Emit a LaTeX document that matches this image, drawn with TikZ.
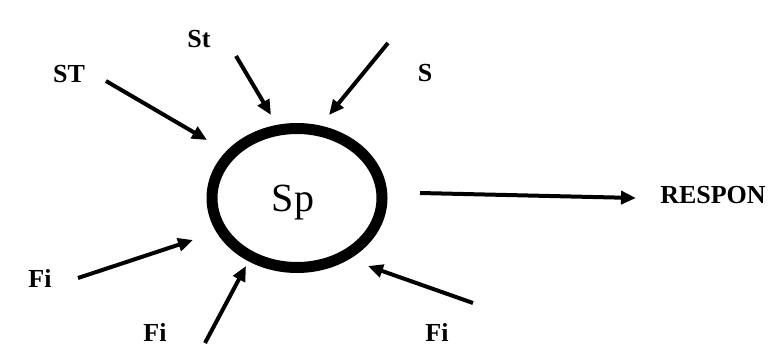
\documentclass[tikz,border=0pt]{standalone}
\usepackage{fontspec}
\setmainfont{Liberation Serif}
\usetikzlibrary{arrows.meta,shapes.geometric}
\begin{document}
\begin{tikzpicture}[x=1pt,y=-1pt,
  lbl/.style={font=\fontsize{26}{28}\selectfont\bfseries, inner sep=0pt},
  arr/.style={line width=4pt, -{Triangle[length=15pt,width=13pt]}},
  ring/.style={draw, ellipse, line width=11pt, minimum width=170pt, minimum height=139pt, inner sep=0pt}]
\useasboundingbox (0,0) rectangle (775,361);
\node[ring] (sp) at (297,198) {};
\node[anchor=base, inner sep=0pt, font=\fontsize{40}{42}\selectfont] (splabel) at (293,211) {Sp};
% labels
\node[lbl] (ST) at (69,74) {ST};
\node[lbl] (St) at (199,39) {St};
\node[lbl] (S) at (425,73) {S};
\node[lbl] (resp) at (713,195) {RESPON};
\node[lbl] (fi1) at (40,278) {Fi};
\node[lbl] (fi2) at (155,332) {Fi};
\node[lbl] (fi3) at (437,332) {Fi};
% arrow ends
\coordinate (a1s) at (106,81);  \coordinate (a1e) at (207,140);
\coordinate (a2s) at (236,56);  \coordinate (a2e) at (271,115);
\coordinate (a3s) at (388,43);  \coordinate (a3e) at (329,115);
\coordinate (a4s) at (420,193); \coordinate (a4e) at (636,198);
\coordinate (a5s) at (78,278);  \coordinate (a5e) at (193,240);
\coordinate (a6s) at (205,343); \coordinate (a6e) at (246,266);
\coordinate (a7s) at (473,303); \coordinate (a7e) at (368,266);
\draw[arr] (a1s) -- (a1e);
\draw[arr] (a2s) -- (a2e);
\draw[arr] (a3s) -- (a3e);
\draw[arr] (a4s) -- (a4e);
\draw[arr] (a5s) -- (a5e);
\draw[arr] (a6s) -- (a6e);
\draw[arr] (a7s) -- (a7e);
\end{tikzpicture}
\end{document}
